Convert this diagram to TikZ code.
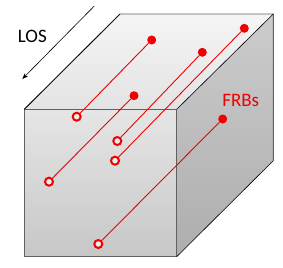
\documentclass[tikz,border=0pt]{standalone}
\usepackage{fontspec}
\setmainfont{Carlito}
\usetikzlibrary{arrows.meta}
\definecolor{frbred}{RGB}{240,0,0}
\begin{document}
\begin{tikzpicture}[x=1pt,y=-1pt,
  filled/.style={circle,fill=frbred,inner sep=0pt,minimum size=9pt},
  open/.style={circle,draw=frbred,line width=2pt,fill=white!85!gray,inner sep=0pt,minimum size=8pt},
  ray/.style={draw=frbred,line width=0.9pt},
  edge/.style={draw=black!62,line width=0.9pt},
  lbl/.style={font=\fontsize{19}{21}\selectfont,inner sep=0pt}]
\useasboundingbox (0,0) rectangle (283,267);
% faces
\shade[top color=black!4,bottom color=black!11,shading angle=0]
  (24.3,109.3) -- (120,14) -- (273.3,14) -- (176.7,109.3) -- cycle;
\shade[top color=black!10,bottom color=black!22]
  (24.3,109.3) rectangle (176.7,256.7);
\shade[top color=black!20,bottom color=black!32]
  (176.7,109.3) -- (273.3,14) -- (273.3,160.7) -- (176.7,256.7) -- cycle;
% edges
\draw[edge] (24.3,109.3) -- (120,14) -- (273.3,14) -- (273.3,160.7);
\draw[edge] (24.3,109.3) rectangle (176.7,256.7);
\draw[black,line width=0.6pt] (176.7,109.3) -- (273.3,14);
\draw[black,line width=0.6pt] (176.7,256.7) -- (273.3,160.7);
\draw[black,line width=0.6pt] (24.3,109.3) -- (120,14);
% FRBs
\node[filled] (f1) at (151.7,40) {};
\node[open]   (o1) at (76.7,116.7) {};
\node[filled] (f2) at (202.3,52.3) {};
\node[open]   (o2) at (117.3,141) {};
\node[filled] (f3) at (244.3,28.3) {};
\node[open]   (o3) at (115,160.7) {};
\node[filled] (f4) at (134,95.7) {};
\node[open]   (o4) at (49,181.7) {};
\node[filled] (f5) at (222.7,119) {};
\node[open]   (o5) at (98.3,244) {};
\foreach \i in {1,...,5} \draw[ray] (f\i) -- (o\i);
% labels
\node[lbl,text=frbred] (frb) at (240.7,100) {FRBs};
\node[lbl] (los) at (32.3,36.5) {LOS};
\coordinate (a1) at (94.3,6);
\coordinate (a2) at (22.3,79);
\draw[-{Stealth[length=6pt,width=4.5pt]},line width=0.6pt] (a1) -- (a2);
\end{tikzpicture}
\end{document}
